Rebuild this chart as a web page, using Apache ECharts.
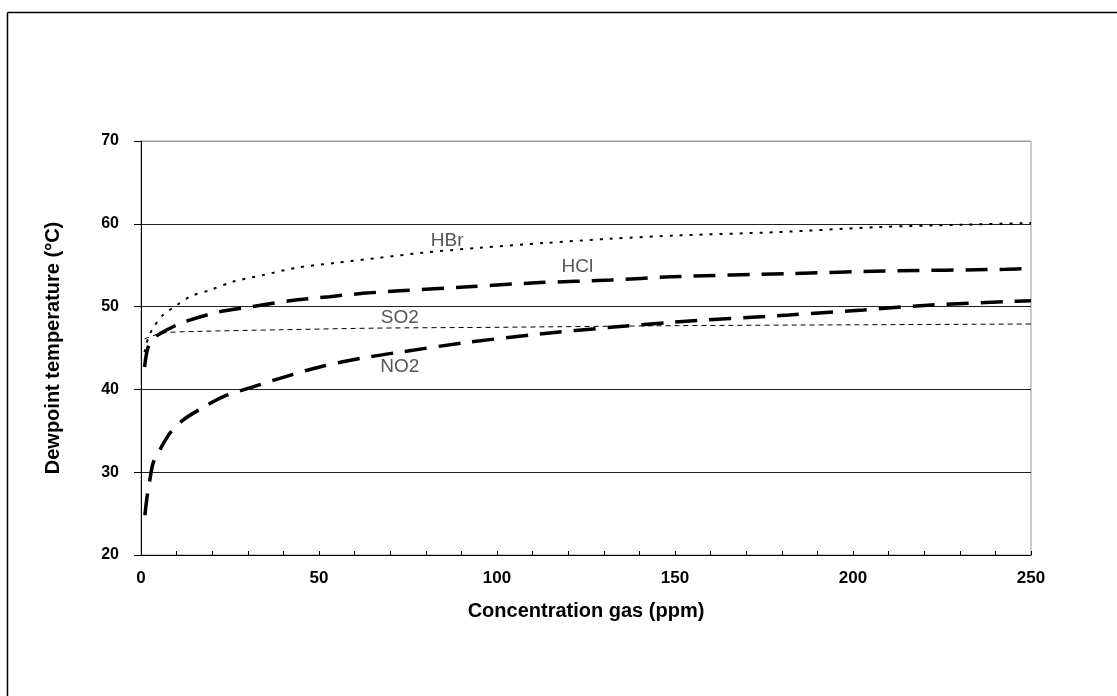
<!DOCTYPE html>
<html>
<head>
<meta charset="utf-8">
<script src="https://cdn.jsdelivr.net/npm/echarts@6/dist/echarts.min.js"></script>
<style>
  html, body { margin: 0; padding: 0; background: #fff; }
  #chart { width: 1117px; height: 696px; }
</style>
</head>
<body>
<div id="chart"></div>
<script>
// values (concentration ppm -> dewpoint °C)
const hbrX = [1, 2, 3.4, 6.2, 9.5, 13.7, 19.4, 25.8, 34.2, 43.8, 55, 67, 79, 95, 114, 132, 151, 179, 207, 231, 250]
const hbrY = [44.5, 46.2, 47.4, 49.0, 50.0, 51.2, 52.0, 53.0, 53.8, 54.7, 55.3, 55.9, 56.5, 57.1, 57.7, 58.2, 58.6, 59.0, 59.6, 59.9, 60.1]

const hclX = [1, 2, 3.9, 7.3, 11.8, 21.3, 31.4, 41.8, 53, 62.3, 72.7, 92, 112, 132, 149, 183, 209, 243, 250]
const hclY = [42.7, 45.1, 46.3, 47.2, 48.1, 49.3, 50.0, 50.7, 51.2, 51.6, 51.9, 52.4, 52.9, 53.2, 53.6, 54.0, 54.3, 54.5, 54.6]

const so2X = [1, 6, 15.7, 39, 66, 100, 151, 200, 250]
const so2Y = [46.1, 46.8, 47.0, 47.2, 47.4, 47.5, 47.7, 47.8, 47.9]

const no2X = [1.1, 1.7, 2.5, 3.4, 5.3, 8.1, 11.8, 17.4, 23, 31.4, 41.8, 51, 62.3, 72.7, 90.4, 112, 132, 149, 182, 203, 222, 243, 250]
const no2Y = [24.8, 27.0, 29.1, 31.1, 32.7, 34.7, 36.3, 37.8, 39.1, 40.3, 41.7, 42.8, 43.8, 44.5, 45.6, 46.7, 47.5, 48.1, 49.0, 49.6, 50.2, 50.6, 50.7]

// where the curve names sit [x, y]
const labelNames = ['HBr', 'HCl', 'SO2', 'NO2']
const labelPos = [[86, 57.9], [122.6, 54.8], [72.7, 48.6], [72.7, 42.7]]

const chart = echarts.init(document.getElementById('chart'))

function pairs(xs, ys) {
  return xs.map((x, i) => [x, ys[i]])
}

function curve(name, xs, ys, width, dash, idx) {
  return {
    name: name,
    type: 'line',
    data: pairs(xs, ys),
    smooth: 0.3,
    showSymbol: false,
    silent: true,
    lineStyle: { color: '#000', width: width, type: dash },
    markPoint: {
      symbol: 'circle',
      symbolSize: 1,
      itemStyle: { color: 'rgba(0,0,0,0)' },
      label: {
        show: true,
        position: 'inside',
        formatter: labelNames[idx],
        color: '#555',
        fontFamily: 'Liberation Sans',
        fontSize: 19
      },
      data: [{ coord: labelPos[idx] }]
    }
  }
}

const option = {
  animation: false,
  backgroundColor: '#fff',
  grid: {
    left: 141,
    right: 86,
    top: 141,
    bottom: 141,
    show: true,
    borderColor: '#999',
    borderWidth: 1
  },
  xAxis: {
    type: 'value',
    min: 0,
    max: 250,
    interval: 50,
    name: 'Concentration gas (ppm)',
    nameLocation: 'middle',
    nameGap: 46,
    nameTextStyle: { fontFamily: 'Liberation Sans', fontWeight: 'bold', fontSize: 20, color: '#000' },
    axisLine: { onZero: false, lineStyle: { color: '#000', width: 1 } },
    axisTick: { inside: true, length: 4, lineStyle: { color: '#000' } },
    minorTick: { show: true, splitNumber: 5, length: 4, lineStyle: { color: '#000' } },
    axisLabel: { margin: 15, fontFamily: 'Liberation Sans', fontWeight: 'bold', fontSize: 17, color: '#000' },
    splitLine: { show: false }
  },
  yAxis: {
    type: 'value',
    min: 20,
    max: 70,
    interval: 10,
    name: 'Dewpoint temperature (°C)',
    nameLocation: 'middle',
    nameGap: 78,
    nameTextStyle: { fontFamily: 'Liberation Sans', fontWeight: 'bold', fontSize: 20, color: '#000' },
    axisLine: { show: true, lineStyle: { color: '#000', width: 1 } },
    axisTick: { show: true, inside: false, length: 7, lineStyle: { color: '#000' } },
    axisLabel: { margin: 22, fontFamily: 'Liberation Sans', fontWeight: 'bold', fontSize: 16, color: '#000' },
    splitLine: { show: true, lineStyle: { color: ['#222', '#222', '#222', '#222', '#222', '#999'], width: 1 } }
  },
  graphic: [
    { type: 'line', shape: { x1: 7.5, y1: 12.5, x2: 1117, y2: 12.5 }, style: { stroke: '#000', lineWidth: 1.5 } },
    { type: 'line', shape: { x1: 7.5, y1: 12.5, x2: 7.5, y2: 696 }, style: { stroke: '#000', lineWidth: 1.5 } }
  ],
  series: [
    curve('HBr', hbrX, hbrY, 2, [3, 7], 0),
    curve('HCl', hclX, hclY, 3.5, [22, 12], 1),
    curve('SO2', so2X, so2Y, 1, [5, 4], 2),
    curve('NO2', no2X, no2Y, 3.5, [22, 12], 3)
  ]
}

chart.setOption(option)
</script>
</body>
</html>
